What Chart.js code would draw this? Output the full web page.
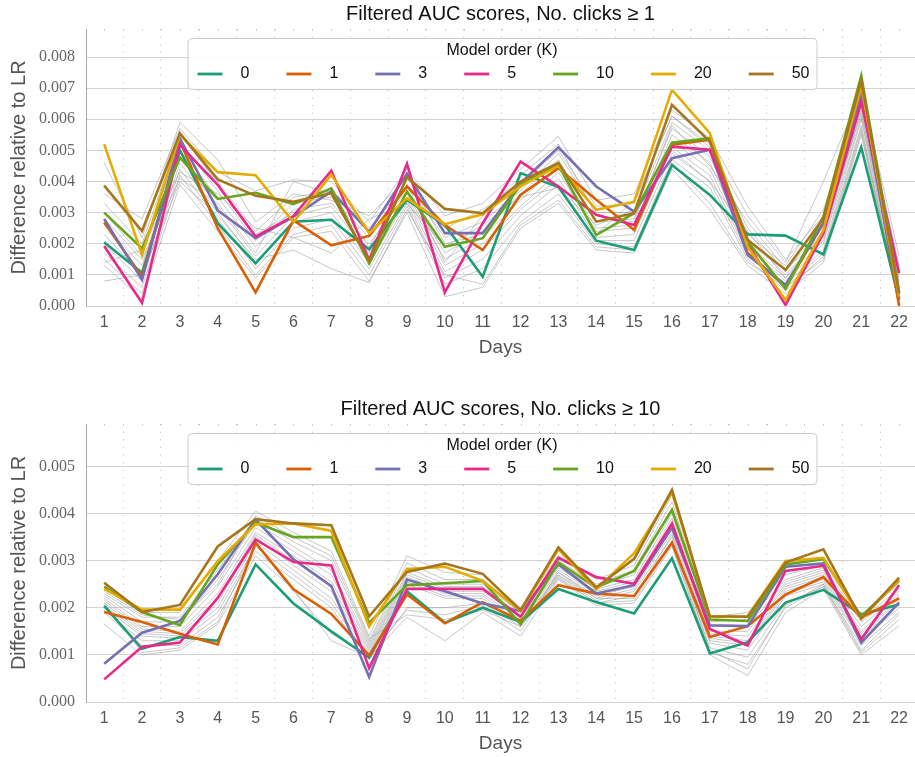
<!DOCTYPE html>
<html>
<head>
<meta charset="utf-8">
<script src="https://cdn.jsdelivr.net/npm/chart.js@4.4.1/dist/chart.umd.min.js"></script>
<style>
  html, body { margin: 0; padding: 0; background: #fff; }
  #wrap { position: relative; width: 915px; height: 757px; overflow: hidden; }
  canvas { position: absolute; left: 0; }
  #c1 { top: 0; }
  #c2 { top: 395px; }
</style>
</head>
<body>
<div id="wrap">
  <canvas id="c1" width="915" height="365"></canvas>
  <canvas id="c2" width="915" height="362"></canvas>
</div>
<script>
// Days on the x axis
const days = [1, 2, 3, 4, 5, 6, 7, 8, 9, 10, 11, 12, 13, 14, 15, 16, 17, 18, 19, 20, 21, 22];
// Highlighted model orders (K) and their line colours
const modelOrders = ['0', '1', '3', '5', '10', '20', '50'];
const seriesColors = ['#1b9e77', '#d95f02', '#7570b3', '#e7298a', '#66a61e', '#e6ab02', '#a6761d'];

// Values are differences relative to LR, in units of 1e-3

// Panel 1: No. clicks >= 1
const clicks1_k0  = [2.05, 1.07, 5.0, 2.66, 1.37, 2.71, 2.77, 1.82, 3.41, 2.6, 0.94, 4.27, 3.82, 2.1, 1.8, 4.53, 3.57, 2.3, 2.26, 1.66, 5.1, 0.2];
const clicks1_k1  = [2.69, 0.94, 5.3, 2.5, 0.44, 2.75, 1.95, 2.25, 3.84, 2.6, 1.8, 3.57, 4.43, 3.41, 2.44, 5.18, 5.34, 1.7, 0.62, 2.66, 7.05, 0.0];
const clicks1_k3  = [2.8, 0.84, 5.39, 3.07, 2.18, 2.87, 3.68, 2.39, 4.25, 2.34, 2.34, 3.95, 5.1, 3.84, 3.03, 4.75, 5.02, 1.64, 0.68, 2.66, 6.72, 0.25];
const clicks1_k5  = [1.93, 0.1, 5.18, 3.89, 2.23, 2.89, 4.35, 1.48, 4.57, 0.44, 2.66, 4.64, 3.84, 2.93, 2.6, 5.12, 5.02, 2.0, 0.03, 2.34, 6.56, 1.05];
const clicks1_k10 = [3.0, 1.85, 4.77, 3.44, 3.64, 3.27, 3.78, 1.37, 3.68, 1.9, 2.18, 3.9, 4.53, 2.28, 2.98, 5.25, 5.39, 2.07, 0.55, 2.87, 7.4, 0.45];
const clicks1_k20 = [5.2, 1.64, 5.5, 4.3, 4.2, 2.69, 4.22, 2.34, 3.46, 2.63, 2.95, 3.85, 4.5, 3.09, 3.35, 6.95, 5.55, 1.9, 0.19, 2.44, 7.1, 0.3];
const clicks1_k50 = [3.87, 2.41, 5.55, 4.07, 3.54, 3.35, 3.62, 1.45, 4.14, 3.12, 2.98, 4.0, 4.6, 2.71, 2.98, 6.46, 5.28, 2.12, 1.16, 2.82, 7.25, 0.4];
const clicks1_otherK = [
  [4.6, 2.2, 5.9, 4.7, 2.7, 3.6, 3.4, 2.9, 4.1, 2.5, 3.1, 3.9, 5.0, 3.2, 3.3, 6.1, 5.1, 2.9, 1.4, 4.0, 6.9, 1.6],
  [3.6, 2.8, 5.7, 4.3, 3.7, 4.05, 4.0, 2.7, 4.4, 2.9, 3.3, 4.4, 5.45, 3.4, 3.6, 6.3, 5.4, 3.2, 1.5, 2.9, 6.8, 1.1],
  [3.3, 2.0, 5.5, 4.0, 2.4, 3.5, 3.7, 2.5, 3.9, 2.2, 2.7, 3.7, 4.9, 3.0, 3.0, 5.9, 5.0, 2.5, 1.1, 2.6, 6.6, 0.8],
  [3.0, 1.6, 5.3, 3.7, 2.1, 3.3, 3.5, 2.2, 3.7, 1.7, 2.4, 3.6, 4.7, 2.7, 2.8, 5.7, 4.8, 2.2, 1.0, 2.3, 6.5, 0.6],
  [2.6, 1.3, 5.0, 3.5, 1.9, 3.1, 3.3, 2.0, 3.6, 1.5, 2.2, 3.4, 4.5, 2.5, 2.6, 5.5, 4.6, 2.0, 0.9, 2.1, 6.3, 0.5],
  [2.3, 1.0, 4.8, 3.2, 1.6, 2.9, 3.2, 1.7, 3.5, 1.3, 2.0, 3.2, 4.3, 2.4, 2.5, 5.3, 4.4, 1.9, 0.8, 2.0, 6.1, 0.4],
  [2.0, 0.8, 4.6, 3.0, 1.4, 2.7, 3.0, 1.4, 3.4, 1.1, 1.8, 3.1, 4.1, 2.2, 2.3, 5.1, 4.2, 1.7, 0.7, 1.8, 6.0, 0.3],
  [1.7, 0.6, 4.4, 2.8, 1.2, 2.5, 2.8, 1.2, 3.3, 0.9, 1.5, 2.9, 3.9, 2.1, 2.1, 4.9, 4.0, 1.6, 0.6, 1.7, 5.8, 0.2],
  [1.5, 0.4, 4.2, 2.6, 1.0, 2.3, 2.6, 1.0, 3.2, 0.7, 1.2, 2.7, 3.6, 2.0, 1.9, 4.7, 3.8, 1.5, 0.5, 1.6, 5.7, 0.1],
  [1.3, 0.25, 3.9, 2.4, 0.9, 2.2, 2.4, 0.8, 3.0, 0.3, 0.6, 2.5, 3.3, 1.8, 1.7, 4.4, 3.1, 1.3, 0.4, 1.4, 5.5, 0.0],
  [0.8, 1.0, 4.0, 2.9, 1.5, 1.8, 1.2, 0.75, 3.1, 1.0, 0.7, 2.6, 3.4, 1.9, 1.8, 4.6, 3.3, 1.4, 0.6, 1.5, 5.6, 0.2],
  [1.4, 1.8, 4.3, 3.6, 2.5, 2.2, 1.7, 2.8, 3.3, 1.9, 2.6, 3.5, 3.8, 2.6, 3.1, 5.0, 4.0, 2.4, 0.9, 2.4, 6.2, 0.7],
  [2.8, 1.5, 4.1, 3.3, 1.7, 4.0, 3.6, 1.9, 3.9, 1.4, 2.9, 4.2, 5.2, 2.9, 2.7, 5.8, 4.5, 2.7, 1.2, 2.2, 6.4, 0.9],
  [3.9, 2.4, 5.6, 3.9, 2.3, 3.0, 3.8, 2.4, 4.2, 2.0, 2.3, 3.8, 4.6, 2.3, 3.4, 6.1, 5.2, 2.3, 1.3, 3.1, 6.7, 1.3]
];

// Panel 2: No. clicks >= 10
const clicks10_k0  = [2.04, 1.13, 1.38, 1.3, 2.92, 2.09, 1.5, 0.94, 2.35, 1.68, 2.0, 1.7, 2.4, 2.12, 1.88, 3.05, 1.03, 1.27, 2.11, 2.38, 1.86, 2.07];
const clicks10_k1  = [1.91, 1.7, 1.45, 1.22, 3.38, 2.39, 1.87, 0.99, 2.28, 1.67, 2.12, 1.72, 2.48, 2.3, 2.25, 3.38, 1.38, 1.61, 2.28, 2.65, 1.79, 2.2];
const clicks10_k3  = [0.81, 1.47, 1.72, 2.71, 3.87, 3.03, 2.46, 0.53, 2.6, 2.35, 2.09, 1.93, 2.92, 2.3, 2.48, 3.7, 1.63, 1.61, 2.87, 2.94, 1.26, 2.11];
const clicks10_k5  = [0.48, 1.17, 1.26, 2.21, 3.45, 2.97, 2.9, 0.72, 2.4, 2.4, 2.4, 1.81, 3.06, 2.65, 2.51, 3.79, 1.55, 1.2, 2.78, 2.89, 1.33, 2.48];
const clicks10_k10 = [2.45, 1.91, 1.63, 2.92, 3.81, 3.5, 3.5, 1.68, 2.48, 2.52, 2.57, 1.65, 2.96, 2.43, 2.78, 4.08, 1.75, 1.72, 2.92, 3.03, 1.82, 2.57];
const clicks10_k20 = [2.4, 1.96, 1.96, 2.99, 3.77, 3.79, 3.63, 1.6, 2.82, 2.87, 2.57, 1.93, 3.24, 2.39, 3.16, 4.45, 1.81, 1.82, 2.99, 3.06, 1.77, 2.6];
const clicks10_k50 = [2.53, 1.91, 2.06, 3.3, 3.88, 3.79, 3.75, 1.82, 2.76, 2.94, 2.72, 1.95, 3.28, 2.43, 3.04, 4.5, 1.82, 1.81, 2.96, 3.24, 1.77, 2.64];
const clicks10_otherK = [
  [2.4, 1.9, 1.9, 3.0, 4.05, 3.6, 3.2, 1.4, 3.1, 2.75, 2.7, 2.0, 3.1, 2.6, 2.9, 4.4, 1.8, 1.9, 2.7, 2.9, 1.85, 2.5],
  [2.3, 1.8, 1.8, 2.8, 3.9, 3.4, 3.0, 1.3, 2.95, 2.6, 2.6, 1.95, 3.0, 2.5, 2.8, 4.25, 1.7, 1.75, 2.6, 2.85, 1.75, 2.4],
  [2.25, 1.7, 1.7, 2.6, 3.8, 3.3, 2.8, 1.25, 2.85, 2.5, 2.5, 1.9, 2.95, 2.45, 2.7, 4.1, 1.6, 1.6, 2.55, 2.8, 1.7, 2.35],
  [2.2, 1.6, 1.6, 2.45, 3.7, 3.2, 2.7, 1.2, 2.75, 2.45, 2.45, 1.85, 2.9, 2.4, 2.6, 4.0, 1.5, 1.5, 2.5, 2.75, 1.6, 2.3],
  [2.15, 1.55, 1.5, 2.3, 3.6, 3.1, 2.55, 1.15, 2.7, 2.4, 2.4, 1.8, 2.85, 2.35, 2.55, 3.9, 1.45, 1.4, 2.45, 2.7, 1.5, 2.25],
  [2.1, 1.5, 1.45, 2.2, 3.55, 3.0, 2.45, 1.1, 2.65, 2.35, 2.35, 1.78, 2.8, 2.3, 2.5, 3.8, 1.4, 1.3, 2.4, 2.65, 1.45, 2.2],
  [2.05, 1.45, 1.4, 2.1, 3.5, 2.9, 2.35, 1.05, 2.6, 2.3, 2.3, 1.75, 2.75, 2.25, 2.45, 3.7, 1.35, 1.25, 2.35, 2.6, 1.4, 2.15],
  [2.0, 1.4, 1.35, 2.0, 3.4, 2.8, 2.2, 1.0, 2.55, 2.25, 2.25, 1.7, 2.7, 2.2, 2.4, 3.6, 1.3, 1.2, 2.3, 2.55, 1.35, 2.1],
  [1.95, 1.3, 1.3, 1.9, 3.3, 2.7, 2.1, 0.95, 2.5, 2.2, 2.2, 1.65, 2.68, 2.15, 2.35, 3.5, 1.25, 1.1, 2.25, 2.5, 1.3, 2.0],
  [1.9, 1.2, 1.2, 1.8, 3.2, 2.6, 2.0, 0.9, 2.0, 2.0, 2.1, 1.6, 2.65, 2.1, 2.25, 3.4, 1.15, 0.95, 2.1, 2.45, 1.2, 1.9],
  [1.65, 1.0, 1.1, 1.65, 3.1, 2.4, 1.3, 0.95, 1.8, 1.3, 1.9, 1.4, 2.6, 2.05, 2.1, 3.3, 1.0, 0.56, 1.9, 2.4, 1.0, 1.62],
  [2.35, 1.85, 1.75, 2.5, 3.95, 3.5, 3.1, 1.35, 1.85, 1.75, 1.95, 1.6, 2.62, 2.1, 2.15, 3.35, 1.05, 0.8, 2.0, 2.45, 1.05, 1.75],
  [2.1, 1.05, 1.15, 1.7, 3.35, 2.35, 1.45, 1.0, 1.95, 1.85, 2.05, 1.5, 2.75, 2.2, 2.2, 3.55, 1.1, 0.7, 2.05, 2.5, 1.1, 1.85]
];

// y-axis tick values for each panel
const clicks1_yTicks  = [0, 0.001, 0.002, 0.003, 0.004, 0.005, 0.006, 0.007, 0.008];
const clicks10_yTicks = [0, 0.001, 0.002, 0.003, 0.004, 0.005];

const UNIT = 1e-3;
const SANS = '"Liberation Sans", Arial, Helvetica, sans-serif';
const SERIF = '"Liberation Serif", "Times New Roman", serif';

function toPoints(arr) {
  return days.map((d, i) => ({ x: d, y: arr[i] * UNIT }));
}

function buildDatasets(colored, others) {
  const sets = [];
  // first dataset is painted last, so K = 50 ends up on top
  for (let i = colored.length - 1; i >= 0; i--) {
    sets.push({
      label: modelOrders[i],
      data: toPoints(colored[i]),
      borderColor: seriesColors[i],
      borderWidth: 2.6,
      pointRadius: 0,
      tension: 0,
      fill: false
    });
  }
  others.forEach(arr => {
    sets.push({
      label: '',
      data: toPoints(arr),
      borderColor: 'rgba(145,145,145,0.5)',
      borderWidth: 1,
      pointRadius: 0,
      tension: 0,
      fill: false
    });
  });
  return sets;
}

// Title above the plot area and the framed "Model order (K)" legend inside it
const panelDecor = {
  id: 'panelDecor',
  afterDatasetsDraw(chart, args, opts) {
    const { ctx, chartArea } = chart;
    const cx = (chartArea.left + chartArea.right) / 2;
    ctx.save();

    // small tick dots along the top edge at every half day
    const xs = chart.scales.x;
    ctx.fillStyle = '#c4c4c4';
    xs.ticks.forEach(t => {
      const px = Math.round(xs.getPixelForValue(t.value));
      ctx.fillRect(px, chartArea.top, 1, 1.5);
    });

    ctx.fillStyle = '#111';
    ctx.textAlign = 'center';
    ctx.textBaseline = 'middle';
    ctx.font = '20px ' + SANS;
    ctx.fillText(opts.title, cx, chartArea.top - 14.5);

    ctx.font = '16px ' + SANS;
    const handle = 25, gap = 18, colSpace = 37, padL = 10, padR = 7;
    const widths = modelOrders.map(t => ctx.measureText(t).width);
    let inner = 0;
    widths.forEach((w, i) => { inner += handle + gap + w + (i ? colSpace : 0); });
    const boxW = inner + padL + padR;
    const boxL = cx + 1.5 - boxW / 2;
    const boxT = chartArea.top + 9;
    const boxH = 51;
    ctx.beginPath();
    ctx.roundRect(boxL + 0.5, boxT + 0.5, boxW, boxH, 4);
    ctx.fillStyle = 'rgba(255,255,255,0.9)';
    ctx.fill();
    ctx.strokeStyle = '#cccccc';
    ctx.lineWidth = 1;
    ctx.stroke();

    ctx.fillStyle = '#111';
    ctx.textAlign = 'center';
    ctx.fillText('Model order (K)', boxL + boxW / 2, boxT + 12.5);

    let x = boxL + padL;
    const iy = boxT + 36;
    ctx.textAlign = 'left';
    modelOrders.forEach((t, i) => {
      ctx.beginPath();
      ctx.moveTo(x, iy);
      ctx.lineTo(x + handle, iy);
      ctx.strokeStyle = seriesColors[i];
      ctx.lineWidth = 2.8;
      ctx.stroke();
      ctx.fillStyle = '#111';
      ctx.fillText(t, x + handle + gap, iy);
      x += handle + gap + widths[i] + colSpace;
    });
    ctx.restore();
  }
};

function makeChart(canvasId, title, colored, others, yTicks, yMax, xAxisHeight, daysPad) {
  const halfSteps = [];
  days.forEach(d => { halfSteps.push(d); if (d < days[days.length - 1]) halfSteps.push(d + 0.5); });
  return new Chart(document.getElementById(canvasId), {
    type: 'line',
    data: { datasets: buildDatasets(colored, others) },
    plugins: [panelDecor],
    options: {
      responsive: false,
      animation: false,
      devicePixelRatio: 1,
      events: [],
      layout: { padding: { top: 29, left: 0, right: 0, bottom: 0 } },
      plugins: {
        legend: { display: false },
        tooltip: { enabled: false },
        title: { display: false },
        panelDecor: { title: title }
      },
      scales: {
        x: {
          type: 'linear',
          min: 0.52,
          max: 22.42,
          afterBuildTicks: s => { s.ticks = halfSteps.map(v => ({ value: v })); },
          afterFit: s => { s.height = xAxisHeight; },
          grid: {
            // dotted guides sit between the days; day positions carry only labels
            color: c => (c.tick && Number.isInteger(c.tick.value) ? 'rgba(0,0,0,0)' : '#c4c4c4'),
            lineWidth: 1,
            drawTicks: false
          },
          border: { display: false, dash: [1.2, 6.4], dashOffset: 0 },
          ticks: {
            autoSkip: false,
            maxRotation: 0,
            padding: 6.7,
            color: '#555',
            font: { family: SANS, size: 16 },
            callback: v => (Number.isInteger(v) ? String(v) : '')
          },
          title: {
            display: true,
            text: 'Days',
            color: '#555',
            font: { family: SANS, size: 19 },
            padding: { top: 0, bottom: daysPad }
          }
        },
        y: {
          min: 0,
          max: yMax,
          afterBuildTicks: s => { s.ticks = yTicks.map(v => ({ value: v })); },
          afterFit: s => { s.width = 86; },
          grid: { color: '#d2d2d2', lineWidth: 1, drawTicks: false },
          border: { display: true, color: '#a8a8a8', width: 1 },
          ticks: {
            padding: 11,
            color: '#666',
            font: { family: SERIF, size: 16 },
            callback: v => v.toFixed(3)
          },
          title: {
            display: true,
            text: 'Difference relative to LR',
            color: '#555',
            font: { family: SANS, size: 20 },
            padding: { top: 7, bottom: 0 }
          }
        }
      }
    }
  });
}

makeChart('c1', 'Filtered AUC scores, No. clicks \u2265 1',
  [clicks1_k0, clicks1_k1, clicks1_k3, clicks1_k5, clicks1_k10, clicks1_k20, clicks1_k50],
  clicks1_otherK, clicks1_yTicks, 0.0089, 59, 5.9);

makeChart('c2', 'Filtered AUC scores, No. clicks \u2265 10',
  [clicks10_k0, clicks10_k1, clicks10_k3, clicks10_k5, clicks10_k10, clicks10_k20, clicks10_k50],
  clicks10_otherK, clicks10_yTicks, 0.0059, 55, 2.3);
</script>
</body>
</html>
